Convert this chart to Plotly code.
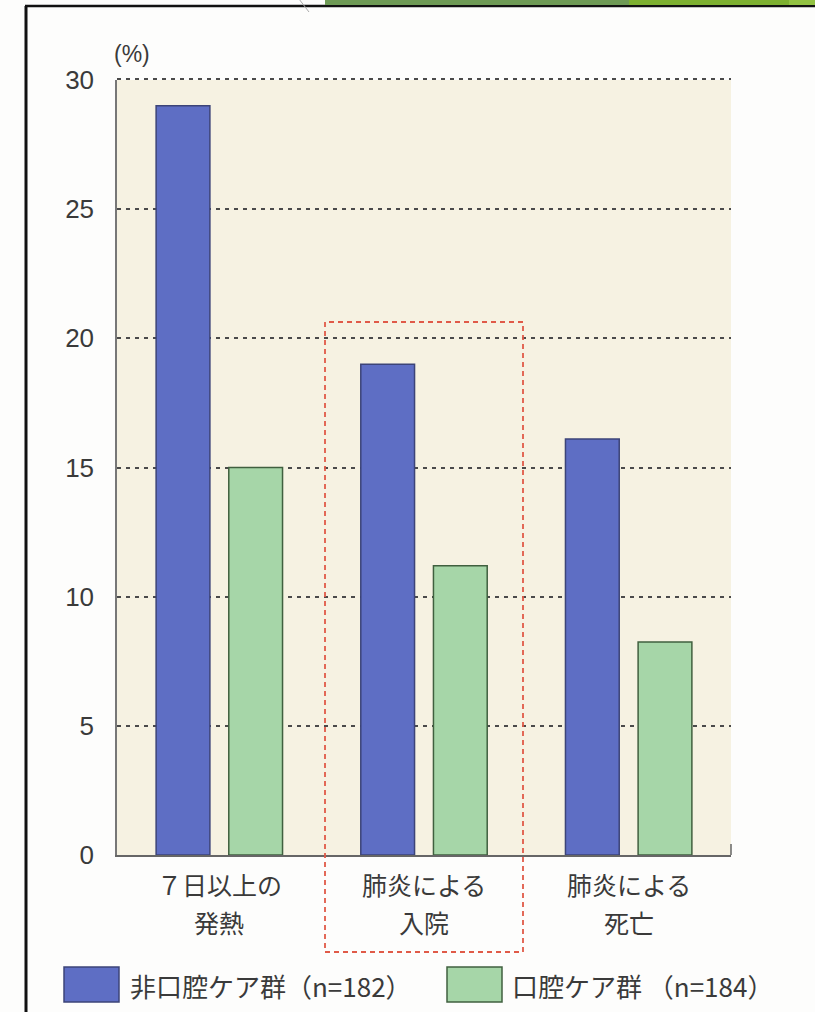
import plotly.graph_objects as go

# ---- data ----
categories = ["７日以上の<br>発熱", "肺炎による<br>入院", "肺炎による<br>死亡"]
cat_line1 = ["７日以上の", "肺炎による", "肺炎による"]
cat_line2 = ["発熱", "入院", "死亡"]
series_names = ["非口腔ケア群（n=182）", "口腔ケア群 （n=184）"]
non_care = [29.0, 19.0, 16.1]
care = [15.0, 11.2, 8.25]
y_ticks = [0, 5, 10, 15, 20, 25, 30]

W, H = 815, 1012
L, R, T, B = 117, 731, 80, 855


def px(x):
    return (x - L) / (R - L)


def py(y):
    return (B - y) / (B - T)


JP = "Noto Sans CJK JP"
TXT = "#3a3a3a"
BLUE, BLUE_EDGE = "#5e6ec4", "#3c4478"
GREEN, GREEN_EDGE = "#a6d6a8", "#40603f"
GRID = "#4a4a4a"

fig = go.Figure()
fig.add_trace(go.Bar(x=categories, y=non_care, name=series_names[0],
                     marker=dict(color=BLUE, line=dict(color=BLUE_EDGE, width=1.5)),
                     showlegend=False))
fig.add_trace(go.Bar(x=categories, y=care, name=series_names[1],
                     marker=dict(color=GREEN, line=dict(color=GREEN_EDGE, width=1.5)),
                     showlegend=False))

shapes = []
# top gridline at the range edge (not drawn by plotly)
shapes.append(dict(type="line", xref="paper", yref="paper",
                   x0=0, x1=1, y0=py(79), y1=py(79),
                   line=dict(color=GRID, width=1.8, dash="4px,5px"), layer="above"))
# red dashed highlight box
shapes.append(dict(type="rect", xref="paper", yref="paper",
                   x0=px(325), x1=px(523), y0=py(952), y1=py(322),
                   line=dict(color="#e05a48", width=1.8, dash="5px,4px"),
                   fillcolor="rgba(0,0,0,0)", layer="above"))
# right end tick of x axis
shapes.append(dict(type="line", xref="paper", yref="paper",
                   x0=1, x1=1, y0=0, y1=py(844),
                   line=dict(color="#666", width=1.5)))
# slide frame decorations
shapes.append(dict(type="line", xref="paper", yref="paper",
                   x0=px(26), x1=px(26), y0=py(6), y1=py(1014),
                   line=dict(color="#111", width=3)))
shapes.append(dict(type="line", xref="paper", yref="paper",
                   x0=px(25), x1=px(816), y0=py(6), y1=py(6),
                   line=dict(color="#111", width=2.5)))
for x0, x1, col in [(325, 629, "#6e9a55"), (629, 789, "#7db030"), (789, 816, "#92c242")]:
    shapes.append(dict(type="rect", xref="paper", yref="paper",
                       x0=px(x0), x1=px(x1), y0=py(5), y1=py(-1),
                       line=dict(width=0), fillcolor=col))
shapes.append(dict(type="line", xref="paper", yref="paper",
                   x0=px(299), x1=px(309), y0=py(-1), y1=py(12),
                   line=dict(color="#aaa", width=1)))
# legend swatches
shapes.append(dict(type="rect", xref="paper", yref="paper",
                   x0=px(64), x1=px(119), y0=py(1002), y1=py(967),
                   fillcolor=BLUE, line=dict(color=BLUE_EDGE, width=1.5)))
shapes.append(dict(type="rect", xref="paper", yref="paper",
                   x0=px(447), x1=px(502), y0=py(1002), y1=py(967),
                   fillcolor=GREEN, line=dict(color=GREEN_EDGE, width=1.5)))

annotations = []
for c, l1, l2 in zip(categories, cat_line1, cat_line2):
    annotations.append(dict(x=c, xref="x", y=py(884), yref="paper", text=l1,
                            showarrow=False, xanchor="center", yanchor="middle",
                            font=dict(family=JP, size=25, color=TXT)))
    annotations.append(dict(x=c, xref="x", y=py(922), yref="paper", text=l2,
                            showarrow=False, xanchor="center", yanchor="middle",
                            font=dict(family=JP, size=25, color=TXT)))
annotations.append(dict(x=px(112), xref="paper", y=py(54), yref="paper", text="(%)",
                        showarrow=False, xanchor="left", yanchor="middle",
                        font=dict(family="Liberation Sans", size=23, color=TXT)))
annotations.append(dict(x=px(128), xref="paper", y=py(985), yref="paper", text=series_names[0],
                        showarrow=False, xanchor="left", yanchor="middle",
                        font=dict(family=JP, size=26, color=TXT)))
annotations.append(dict(x=px(510), xref="paper", y=py(985), yref="paper", text=series_names[1],
                        showarrow=False, xanchor="left", yanchor="middle",
                        font=dict(family=JP, size=26, color=TXT)))

fig.update_layout(
    width=W, height=H,
    margin=dict(l=L, r=W - R, t=T, b=H - B, pad=0),
    paper_bgcolor="#fdfdfc",
    plot_bgcolor="#f6f2e2",
    barmode="group", bargap=0.29, bargroupgap=0.26,
    shapes=shapes, annotations=annotations,
    showlegend=False,
    xaxis=dict(type="category", range=[-0.5, 2.5], showticklabels=False,
               showline=True, linecolor="#666", linewidth=1.5, ticks="",
               showgrid=False, zeroline=False, fixedrange=True),
    yaxis=dict(range=[0, 30], tickvals=y_ticks, showline=True, linecolor="#777",
               linewidth=1.5, showgrid=True, gridcolor=GRID, gridwidth=1.5,
               griddash="4px,5px", zeroline=False, ticks="",
               ticklabelstandoff=16,
               tickfont=dict(family="Liberation Sans", size=26, color=TXT),
               fixedrange=True),
)

fig.write_html("out.html")
